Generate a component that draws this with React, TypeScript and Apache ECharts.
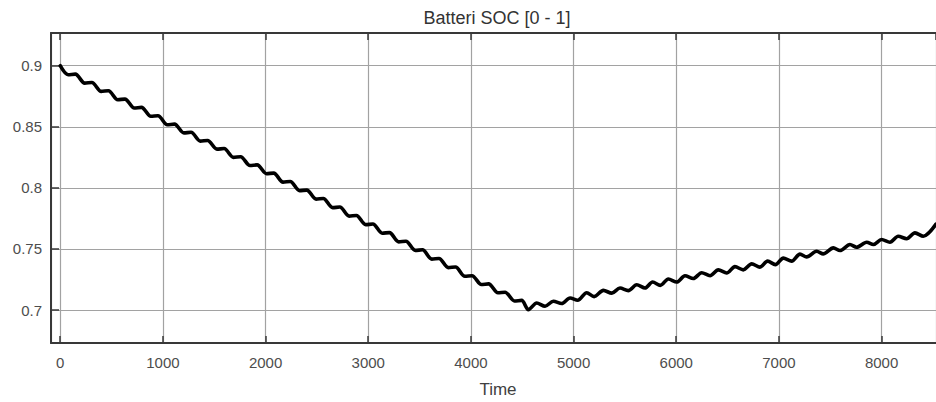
import React, { useEffect, useRef } from "react";
import * as echarts from "echarts";

// Discharge phase (time, SOC): step-like descent
const dischargeTime = [
  0, 77, 147, 238, 308, 399, 469, 560, 630, 721, 791, 882, 952,
  1043, 1113, 1204, 1274, 1365, 1435, 1526, 1596, 1687, 1757, 1848, 1918,
  2009, 2079, 2170, 2240, 2331, 2401, 2492, 2562, 2653, 2723, 2814, 2884,
  2975, 3045, 3136, 3206, 3297, 3367, 3458, 3528, 3619, 3689, 3780, 3850,
  3941, 4011, 4102, 4172, 4263, 4333, 4424, 4494, 4560,
];
const dischargeSoc = [
  0.9, 0.8926, 0.8931, 0.8858, 0.8863, 0.879, 0.8795, 0.8722, 0.8727, 0.8654, 0.8659, 0.8586, 0.8591,
  0.8517, 0.8522, 0.845, 0.8455, 0.8383, 0.8388, 0.8317, 0.8322, 0.825, 0.8255, 0.8183, 0.8188,
  0.8116, 0.8121, 0.8047, 0.8052, 0.7977, 0.7982, 0.7908, 0.7913, 0.7838, 0.7843, 0.7769, 0.7774,
  0.7699, 0.7704, 0.7629, 0.7634, 0.7558, 0.7563, 0.7488, 0.7493, 0.7417, 0.7422, 0.7347, 0.7352,
  0.7276, 0.7281, 0.7209, 0.7214, 0.7141, 0.7146, 0.7074, 0.7079, 0.7003,
];

// Charge phase (time, SOC): zig-zag rise
const chargeTime = [
  4641, 4722, 4803, 4884, 4966, 5040, 5128, 5200, 5290, 5372, 5452, 5533,
  5615, 5696, 5770, 5845, 5923, 6005, 6085, 6166, 6248, 6329, 6410, 6491,
  6572, 6653, 6735, 6815, 6890, 6965, 7043, 7124, 7205, 7270, 7368, 7432,
  7530, 7595, 7692, 7757, 7855, 7920, 8000, 8081, 8162, 8244, 8325, 8406, 8530,
];
const chargeSoc = [
  0.7058, 0.7031, 0.7072, 0.7053, 0.7099, 0.708, 0.7142, 0.711, 0.7161, 0.7138, 0.718, 0.7159,
  0.7207, 0.718, 0.7229, 0.7202, 0.7254, 0.7229, 0.728, 0.7258, 0.7305, 0.7281, 0.7329, 0.7303,
  0.7355, 0.7329, 0.7378, 0.7351, 0.74, 0.7372, 0.7425, 0.74, 0.7458, 0.7435, 0.7481, 0.746,
  0.7509, 0.7487, 0.7536, 0.7514, 0.7555, 0.7536, 0.7577, 0.7555, 0.7604, 0.7583, 0.7632, 0.7604, 0.7703,
];

const xMin = -90;
const xMax = 8530;
const yMin = 0.673;
const yMax = 0.9268;

const titleText = "Batteri SOC [0 - 1]";
const xName = "Time";

const FONT = "'Liberation Sans', Arial, Helvetica, sans-serif";

export default function App() {
  const ref = useRef<HTMLDivElement>(null);

  useEffect(() => {
    if (!ref.current) return;
    const chart = echarts.init(ref.current, null, { renderer: "svg" });

    const data: [number, number][] = [];
    dischargeTime.forEach((t, i) => data.push([t, dischargeSoc[i]]));
    chargeTime.forEach((t, i) => data.push([t, chargeSoc[i]]));

    const frameColor = "#383838";
    const gridColor = "#a2a2a2";
    const labelColor = "#4d4d4d";

    chart.setOption({
      animation: false,
      backgroundColor: "#ffffff",
      grid: { left: 51, right: 0, top: 33, bottom: 59, containLabel: false },
      graphic: [
        {
          type: "text",
          x: 497,
          y: 18,
          style: {
            text: titleText,
            fill: "#333333",
            font: `18px ${FONT}`,
            textAlign: "center",
            textVerticalAlign: "middle",
          },
        },
        {
          type: "text",
          x: 498,
          y: 389,
          style: {
            text: xName,
            fill: "#404040",
            font: `17px ${FONT}`,
            textAlign: "center",
            textVerticalAlign: "middle",
          },
        },
      ],
      xAxis: [
        {
          type: "value",
          position: "bottom",
          min: xMin,
          max: xMax,
          minInterval: 1000,
          maxInterval: 1000,
          axisLine: { show: true, onZero: false, lineStyle: { color: frameColor, width: 2 } },
          axisTick: { show: true, inside: true, length: 7, lineStyle: { color: frameColor, width: 1.5 } },
          axisLabel: {
            show: true,
            showMinLabel: false,
            showMaxLabel: false,
            margin: 12,
            color: labelColor,
            fontSize: 15,
            fontFamily: FONT,
            formatter: (v: number) => String(Math.round(v)),
          },
          splitLine: { show: true, lineStyle: { color: gridColor, width: 1.2 } },
        },
        {
          type: "value",
          position: "top",
          min: xMin,
          max: xMax,
          minInterval: 1000,
          maxInterval: 1000,
          axisLine: { show: true, onZero: false, lineStyle: { color: frameColor, width: 2 } },
          axisTick: { show: true, inside: true, length: 7, lineStyle: { color: frameColor, width: 1.5 } },
          axisLabel: { show: false },
          splitLine: { show: false },
        },
      ],
      yAxis: {
        type: "value",
        position: "left",
        min: yMin,
        max: yMax,
        minInterval: 0.05,
        maxInterval: 0.05,
        axisLine: { show: true, onZero: false, lineStyle: { color: frameColor, width: 2 } },
        axisTick: { show: true, inside: true, length: 8, lineStyle: { color: frameColor, width: 1.5 } },
        axisLabel: {
          show: true,
          showMinLabel: false,
          showMaxLabel: false,
          margin: 9,
          color: labelColor,
          fontSize: 15,
          fontFamily: FONT,
          formatter: (v: number) => String(Number(v.toFixed(2))),
        },
        splitLine: { show: true, lineStyle: { color: gridColor, width: 1.2 } },
      },
      series: [
        {
          type: "line",
          xAxisIndex: 0,
          data,
          showSymbol: false,
          symbol: "none",
          smooth: 0.3,
          lineStyle: { color: "#000000", width: 3.6, join: "round", cap: "round" },
          clip: true,
        },
      ],
    });

    return () => chart.dispose();
  }, []);

  return (
    <div
      ref={ref}
      style={{ position: "fixed", left: 0, top: 0, width: 936, height: 402, background: "#fff" }}
    />
  );
}
